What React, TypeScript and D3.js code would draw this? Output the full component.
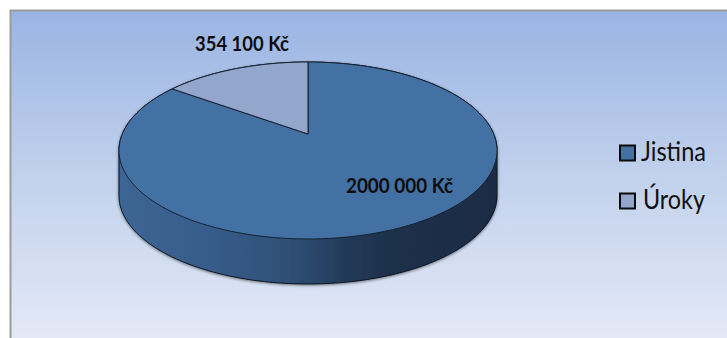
import React from "react";
import * as d3 from "d3";

// Loan breakdown: principal and interest, in CZK
const categories = ["Jistina", "Úroky"];
const amounts = [2000000, 354100];
const valueLabels = ["2000 000 Kč", "354 100 Kč"];
const sliceColors = ["#4371a4", "#93a7cd"];

const WIDTH = 727;
const HEIGHT = 338;
const FONT = "Lato, Carlito, 'Open Sans', sans-serif";

// Perspective view of the pie disc: unit-circle coordinates go to screen space
const APEX_X = 308;
const APEX_Y = 134;
const SCALE_X = 185.7;
const SCALE_Y = 85.4;
const TILT = 0.1864;
const DEPTH = 45;

type Pt = [number, number];

function project(angle: number): Pt {
  const u = Math.sin(angle);
  const v = Math.cos(angle);
  const w = 1 + TILT * v;
  return [APEX_X + (SCALE_X * u) / w, APEX_Y - (SCALE_Y * v) / w];
}

function sweep(a0: number, a1: number): Pt[] {
  const steps = Math.max(8, Math.ceil(((a1 - a0) / (2 * Math.PI)) * 360));
  return d3.range(steps + 1).map((i) => project(a0 + ((a1 - a0) * i) / steps));
}

const toPath = d3.line<Pt>();
const arcs = d3.pie<number>().sort(null)(amounts);
const rim = sweep(0, 2 * Math.PI);
const wallOutline = d3.polygonHull([
  ...rim,
  ...rim.map(([x, y]) => [x, y + DEPTH] as Pt),
]) as Pt[];

const wallStops: [number, string][] = [
  [0, "#3d6695"],
  [0.25, "#375c89"],
  [0.45, "#2f4f77"],
  [0.6, "#233a59"],
  [0.72, "#1d304a"],
  [1, "#1a2c44"],
];

const legendRows = d3
  .scalePoint<string>()
  .domain(categories)
  .range([153, 201]);

// Text widths keep the narrow humanist letterforms of the original label face
const legendTextX = [641, 643];
const legendTextWidth = [65, 62];

export default function App() {
  return (
    <svg
      width={WIDTH}
      height={HEIGHT}
      style={{ position: "absolute", left: 0, top: 0 }}
    >
      <defs>
        <linearGradient id="backdrop" x1="0" y1="0" x2="0" y2="1">
          <stop offset="0" stopColor="#9ab4e3" />
          <stop offset="0.5" stopColor="#c1d1ec" />
          <stop offset="1" stopColor="#e3e9f6" />
        </linearGradient>
        <linearGradient id="wall" x1="0" y1="0" x2="1" y2="0">
          {wallStops.map(([o, c]) => (
            <stop key={o} offset={o} stopColor={c} />
          ))}
        </linearGradient>
        <filter id="soft" x="-5%" y="-5%" width="110%" height="115%">
          <feDropShadow dx="0" dy="1" stdDeviation="1.6" floodColor="#000" floodOpacity="0.5" />
        </filter>
      </defs>

      <rect x={0} y={0} width={WIDTH} height={HEIGHT} fill="#fff" />
      <rect x={11} y={11} width={WIDTH - 11} height={HEIGHT - 11} fill="url(#backdrop)" />
      <path d={`M10.5,${HEIGHT}V10.5H${WIDTH}`} fill="none" stroke="#9b9b9b" strokeWidth={2} />

      <path
        d={(toPath(wallOutline) ?? "") + "Z"}
        fill="url(#wall)"
        stroke="#0a1420"
        strokeWidth={1}
        filter="url(#soft)"
      />

      {arcs.map((a, i) => (
        <path
          key={categories[i]}
          d={
            (toPath([[APEX_X, APEX_Y], ...sweep(a.startAngle, a.endAngle)]) ?? "") + "Z"
          }
          fill={sliceColors[i]}
          stroke="#14202f"
          strokeWidth={1}
          strokeLinejoin="round"
        />
      ))}

      <g fontFamily={FONT} fontWeight={700} fontSize={20} fill="#0d0d0d">
        <text x={346} y={193} textLength={107} lengthAdjust="spacingAndGlyphs">
          {valueLabels[0]}
        </text>
        <text x={195} y={51} textLength={94} lengthAdjust="spacingAndGlyphs">
          {valueLabels[1]}
        </text>
      </g>

      {categories.map((c, i) => {
        const y = legendRows(c) as number;
        return (
          <g key={c}>
            <rect
              x={620}
              y={y - 7.5}
              width={15}
              height={15}
              fill={sliceColors[i]}
              stroke="#0b0b0b"
              strokeWidth={2}
            />
            <text
              x={legendTextX[i]}
              y={y + 8}
              fontFamily={FONT}
              fontSize={26}
              fill="#111"
              textLength={legendTextWidth[i]}
              lengthAdjust="spacingAndGlyphs"
            >
              {c}
            </text>
          </g>
        );
      })}
    </svg>
  );
}
